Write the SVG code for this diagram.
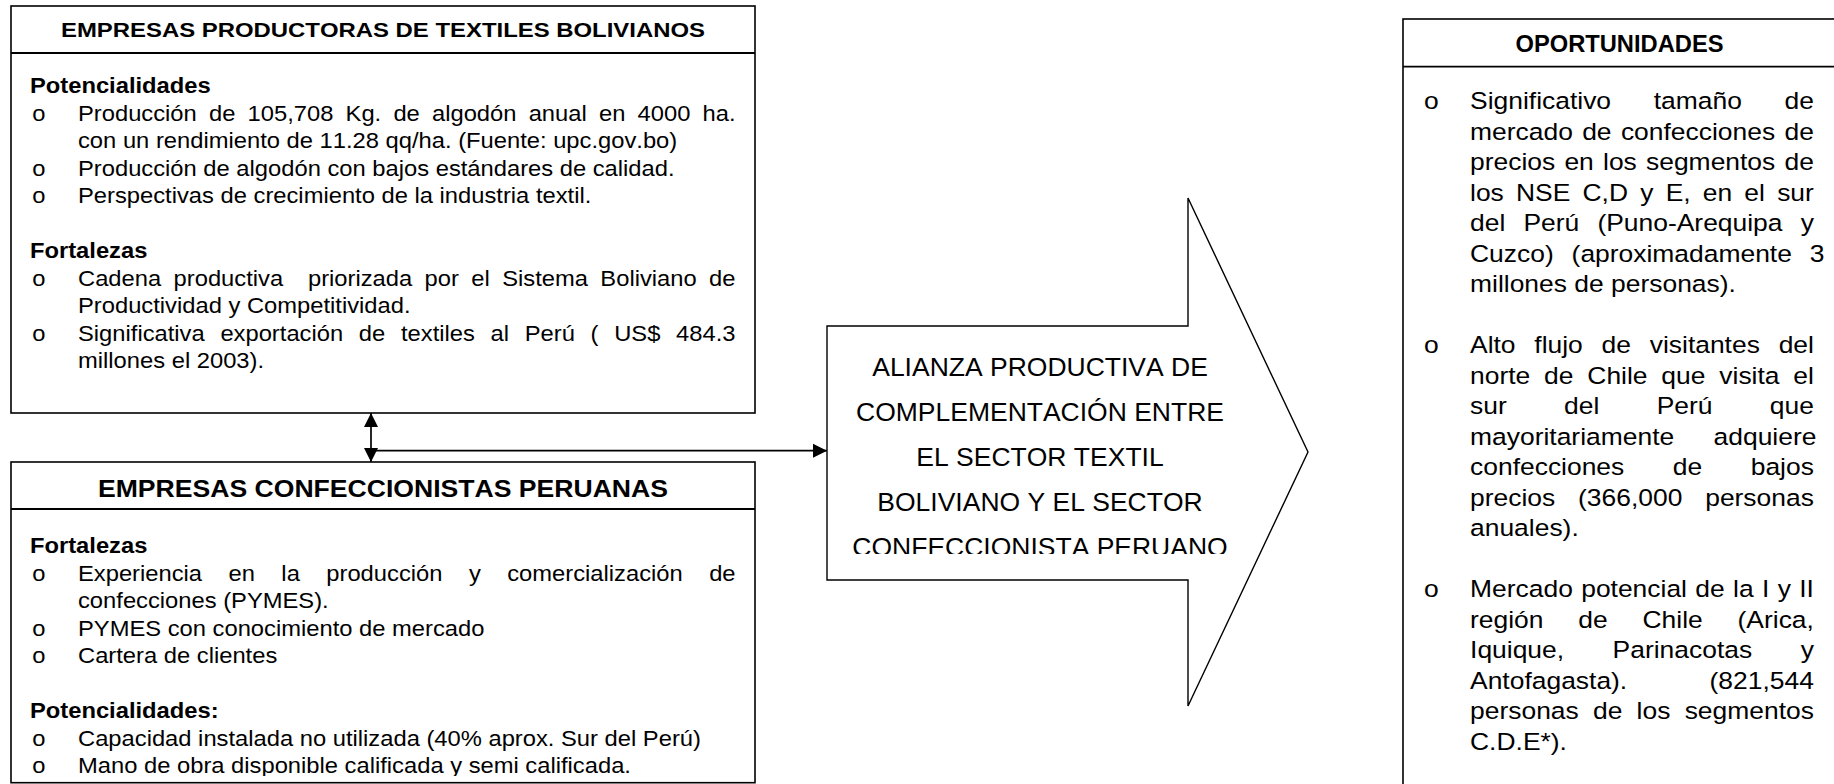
<svg xmlns="http://www.w3.org/2000/svg" width="1834" height="784" viewBox="0 0 1834 784">
<style>
text{font-family:"Liberation Sans",Arial,sans-serif;fill:#000;font-kerning:none}
.box{fill:#fff;stroke:#000;stroke-width:1.6}
.sep{stroke:#000;stroke-width:1.8}
.hdr{font-weight:bold}
.lb{font-size:21.5px}
.lbb{font-size:21.5px;font-weight:bold}
.rb{font-size:23.5px}
.conn{stroke:#000;stroke-width:1.7;fill:none}
.bigarrow{fill:#fff;stroke:#000;stroke-width:1.4;stroke-linejoin:miter}
.at{font-size:25px}
</style>
<defs>
<marker id="ah" viewBox="0 0 10 10" refX="10" refY="5" markerWidth="14" markerHeight="15" markerUnits="userSpaceOnUse" orient="auto-start-reverse">
<path d="M0,0 L10,5 L0,10 z" fill="#000"/>
</marker>
<clipPath id="clipLow"><rect x="0" y="0" width="760" height="776"/></clipPath>
<clipPath id="clipArrow"><rect x="800" y="300" width="520" height="254"/></clipPath>
</defs>

<g id="bolivia">
<rect class="box" x="11" y="6" width="744" height="407"/>
<line class="sep" x1="11" y1="53" x2="755" y2="53"/>
<text class="hdr" x="383" y="37.3" font-size="21" text-anchor="middle" textLength="644" lengthAdjust="spacingAndGlyphs">EMPRESAS PRODUCTORAS DE TEXTILES BOLIVIANOS</text>
<g transform="scale(1.105 1)">
<text class="lbb" x="27.1" y="93.5">Potencialidades</text>
<text class="lb" x="29.3" y="121">o</text>
<text class="lb" x="70.6" y="121" word-spacing="5.06">Producción de 105,708 Kg. de algodón anual en 4000 ha.</text>
<text class="lb" x="70.6" y="148.5">con un rendimiento de 11.28 qq/ha. (Fuente: upc.gov.bo)</text>
<text class="lb" x="29.3" y="176">o</text>
<text class="lb" x="70.6" y="176">Producción de algodón con bajos estándares de calidad.</text>
<text class="lb" x="29.3" y="203.5">o</text>
<text class="lb" x="70.6" y="203.5">Perspectivas de crecimiento de la industria textil.</text>
<text class="lbb" x="27.1" y="258.5">Fortalezas</text>
<text class="lb" x="29.3" y="286">o</text>
<text class="lb" x="70.6" y="286" word-spacing="5.26" xml:space="preserve" style="white-space:pre">Cadena productiva  priorizada por el Sistema Boliviano de</text>
<text class="lb" x="70.6" y="313.5">Productividad y Competitividad.</text>
<text class="lb" x="29.3" y="341">o</text>
<text class="lb" x="70.6" y="341" word-spacing="8.25">Significativa exportación de textiles al Perú ( US$ 484.3</text>
<text class="lb" x="70.6" y="368.5">millones el 2003).</text>
</g>
</g>

<g id="peru">
<rect class="box" x="11" y="462" width="744" height="320.7"/>
<line class="sep" x1="11" y1="509" x2="755" y2="509"/>
<text class="hdr" x="383" y="497.3" font-size="24" text-anchor="middle" textLength="570" lengthAdjust="spacingAndGlyphs">EMPRESAS CONFECCIONISTAS PERUANAS</text>
<g clip-path="url(#clipLow)">
<g transform="scale(1.105 1)">
<text class="lbb" x="27.1" y="553.5">Fortalezas</text>
<text class="lb" x="29.3" y="581">o</text>
<text class="lb" x="70.6" y="581" word-spacing="17.97">Experiencia en la producción y comercialización de</text>
<text class="lb" x="70.6" y="608.5">confecciones (PYMES).</text>
<text class="lb" x="29.3" y="636">o</text>
<text class="lb" x="70.6" y="636">PYMES con conocimiento de mercado</text>
<text class="lb" x="29.3" y="663.5">o</text>
<text class="lb" x="70.6" y="663.5">Cartera de clientes</text>
<text class="lbb" x="27.1" y="718.5">Potencialidades:</text>
<text class="lb" x="29.3" y="746">o</text>
<text class="lb" x="70.6" y="746">Capacidad instalada no utilizada (40% aprox. Sur del Perú)</text>
<text class="lb" x="29.3" y="773.5">o</text>
<text class="lb" x="70.6" y="773.5">Mano de obra disponible calificada y semi calificada.</text>
</g>
</g>
</g>

<g id="alianza">
<polygon class="bigarrow" points="827,326 1188,326 1188,198 1308,452 1188,706 1188,580 827,580"/>
<g clip-path="url(#clipArrow)">
<g transform="translate(1040 0) scale(1.06 1)" text-anchor="middle">
<text class="at" x="0" y="376">ALIANZA PRODUCTIVA DE</text>
<text class="at" x="0" y="421">COMPLEMENTACIÓN ENTRE</text>
<text class="at" x="0" y="466">EL SECTOR TEXTIL</text>
<text class="at" x="0" y="511">BOLIVIANO Y EL SECTOR</text>
<text class="at" x="0" y="556">CONFECCIONISTA PERUANO</text>
</g>
</g>
</g>

<g id="oportunidades">
<rect class="box" x="1403" y="19" width="433" height="800"/>
<line class="sep" x1="1403" y1="66.7" x2="1836" y2="66.7"/>
<text class="hdr" x="1619.5" y="51.7" font-size="23" text-anchor="middle" textLength="208" lengthAdjust="spacingAndGlyphs">OPORTUNIDADES</text>
<g transform="scale(1.125 1)">
<text class="rb" x="1265.8" y="109.5">o</text>
<text class="rb" x="1306.7" y="109.5" word-spacing="31.4">Significativo tamaño de</text>
<text class="rb" x="1306.7" y="140" word-spacing="1.77">mercado de confecciones de</text>
<text class="rb" x="1306.7" y="170.5" word-spacing="1.66">precios en los segmentos de</text>
<text class="rb" x="1306.7" y="201" word-spacing="4.31">los NSE C,D y E, en el sur</text>
<text class="rb" x="1306.7" y="231.5" word-spacing="9.61">del Perú (Puno-Arequipa y</text>
<text class="rb" x="1306.7" y="262" word-spacing="9.34">Cuzco) (aproximadamente 3</text>
<text class="rb" x="1306.7" y="292.5">millones de personas).</text>
<text class="rb" x="1265.8" y="353.5">o</text>
<text class="rb" x="1306.7" y="353.5" word-spacing="10.15">Alto flujo de visitantes del</text>
<text class="rb" x="1306.7" y="384" word-spacing="5.77">norte de Chile que visita el</text>
<text class="rb" x="1306.7" y="414.5" word-spacing="44.44">sur del Perú que</text>
<text class="rb" x="1306.7" y="445" word-spacing="28.51">mayoritariamente adquiere</text>
<text class="rb" x="1306.7" y="475.5" word-spacing="36.61">confecciones de bajos</text>
<text class="rb" x="1306.7" y="506" word-spacing="13.76">precios (366,000 personas</text>
<text class="rb" x="1306.7" y="536.5">anuales).</text>
<text class="rb" x="1265.8" y="597.5">o</text>
<text class="rb" x="1306.7" y="597.5" word-spacing="0.89">Mercado potencial de la I y II</text>
<text class="rb" x="1306.7" y="628" word-spacing="24.42">región de Chile (Arica,</text>
<text class="rb" x="1306.7" y="658.5" word-spacing="36.61">Iquique, Parinacotas y</text>
<text class="rb" x="1306.7" y="689" word-spacing="66.67">Antofagasta). (821,544</text>
<text class="rb" x="1306.7" y="719.5" word-spacing="6.13">personas de los segmentos</text>
<text class="rb" x="1306.7" y="750">C.D.E*).</text>
</g>
</g>

<g id="connectors">
<line class="conn" x1="371" y1="413" x2="371" y2="462" marker-start="url(#ah)" marker-end="url(#ah)"/>
<line class="conn" x1="371" y1="450.7" x2="827" y2="450.7" marker-end="url(#ah)"/>
</g>
</svg>
